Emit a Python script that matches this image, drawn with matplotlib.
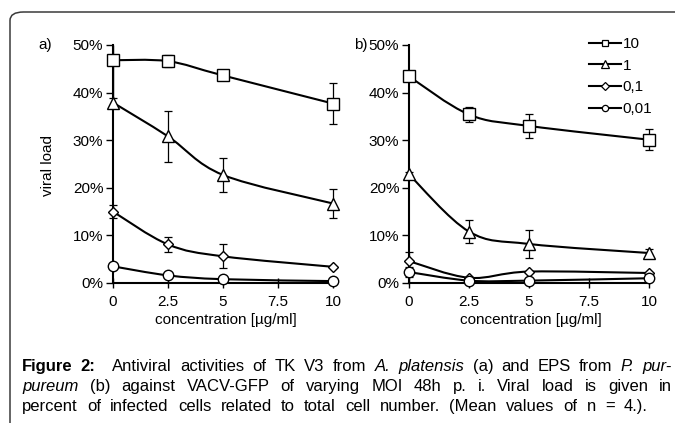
import numpy as np
import matplotlib
matplotlib.use("Agg")
import matplotlib.pyplot as plt
from matplotlib.path import Path
from matplotlib.patches import PathPatch, FancyBboxPatch
from matplotlib.ticker import FuncFormatter

plt.rcParams['font.family'] = ['Liberation Sans', 'DejaVu Sans']

# ---------------- data ----------------
conc = [0, 2.5, 5, 10]
moi_labels = ["10", "1", "0,1", "0,01"]

# panel a) TK V3 from A. platensis
a_10 = [46.8, 46.6, 43.6, 37.7]
a_10_err = [0.9, 1.3, 0.7, 4.4]
a_1 = [37.9, 30.8, 22.7, 16.7]
a_1_err = [0.9, 5.4, 3.5, 3.0]
a_01 = [15.0, 8.1, 5.6, 3.4]
a_01_err = [1.3, 1.5, 2.5, 0.0]
a_001 = [3.5, 1.6, 0.8, 0.4]
a_001_err = [0.0, 0.0, 0.0, 0.0]

# panel b) EPS from P. purpureum
b_10 = [43.4, 35.4, 33.0, 30.1]
b_10_err = [0.0, 1.5, 2.6, 2.2]
b_1 = [22.8, 10.8, 8.2, 6.3]
b_1_err = [0.6, 2.4, 2.9, 0.9]
b_01 = [4.6, 1.1, 2.4, 2.1]
b_01_err = [1.9, 0.0, 0.0, 0.0]
b_001 = [2.3, 0.5, 0.5, 1.0]
b_001_err = [1.0, 0.0, 0.0, 0.0]

xticks = [0, 2.5, 5, 7.5, 10]
xticklabels = ["0", "2.5", "5", "7.5", "10"]
yticks = [0, 10, 20, 30, 40, 50]

markers = ['s', '^', 'D', 'o']
msizes = [8, 8, 5.6, 7.5]
leg_msizes = [5, 6, 4, 4.5]

W, H = 675, 423
fig = plt.figure(figsize=(W / 100, H / 100), dpi=100)


def px_axes(l, r, t, b):
    return [l / W, 1 - b / H, (r - l) / W, (b - t) / H]


def smooth_path(x, y):
    # Catmull-Rom style smoothing (as in spreadsheet "smoothed line")
    P = np.column_stack([x, y]).astype(float)
    n = len(P)
    verts = [P[0]]
    codes = [Path.MOVETO]
    for i in range(n - 1):
        p0 = P[i - 1] if i > 0 else P[i]
        p1 = P[i]
        p2 = P[i + 1]
        p3 = P[i + 2] if i + 2 < n else P[i + 1]
        c1 = p1 + (p2 - p0) / 6.0
        c2 = p2 - (p3 - p1) / 6.0
        verts += [c1, c2, p2]
        codes += [Path.CURVE4] * 3
    return Path(verts, codes)


def draw_panel(ax, series, errs):
    ax.set_xlim(0, 10)
    ax.set_ylim(0, 50)
    for k, (ys, es) in enumerate(zip(series, errs)):
        e = np.array(es)
        mask = e > 0
        if mask.any():
            ax.errorbar(np.array(conc)[mask], np.array(ys)[mask], yerr=e[mask],
                        fmt='none', ecolor='black', elinewidth=0.9,
                        capsize=3, capthick=0.9, zorder=2, clip_on=False)
        ax.add_patch(PathPatch(smooth_path(conc, ys), facecolor='none',
                               edgecolor='black', lw=1.5, zorder=3,
                               clip_on=False))
        ax.plot(conc, ys, linestyle='none', marker=markers[k],
                markersize=msizes[k], markerfacecolor='white',
                markeredgecolor='black', markeredgewidth=1.0, zorder=4,
                clip_on=False)
    for s in ['top', 'right']:
        ax.spines[s].set_visible(False)
    for s in ['left', 'bottom']:
        ax.spines[s].set_linewidth(1.5)
        ax.spines[s].set_zorder(1)
    ax.set_xticks(xticks)
    ax.set_xticklabels(xticklabels)
    ax.set_yticks(yticks)
    ax.yaxis.set_major_formatter(FuncFormatter(lambda v, p: f"{v:.0f}%"))
    ax.tick_params(axis='y', direction='out', length=5, width=1.0,
                   labelsize=11, pad=2)
    ax.tick_params(axis='x', direction='inout', length=7, width=1.0,
                   labelsize=11, pad=5)
    ax.patch.set_visible(False)


axa = fig.add_axes(px_axes(113, 333, 45, 283))
draw_panel(axa, [a_10, a_1, a_01, a_001],
           [a_10_err, a_1_err, a_01_err, a_001_err])
# long lower error on the MOI 10 point at 0 ug/ml (panel a)
axa.errorbar([conc[0]], [a_10[0]], yerr=[[9.0], [3.2]], fmt='none',
             ecolor='black', elinewidth=1.0, capsize=0, zorder=2)

axb = fig.add_axes(px_axes(409, 649, 45, 283))
draw_panel(axb, [b_10, b_1, b_01, b_001],
           [b_10_err, b_1_err, b_01_err, b_001_err])

# legend
handles = []
for k in range(4):
    h, = axb.plot([], [], color='black', lw=1.5, marker=markers[k],
                  markersize=leg_msizes[k], markerfacecolor='white',
                  markeredgecolor='black', markeredgewidth=0.9)
    handles.append(h)
axb.legend(handles, moi_labels, loc='upper left',
           bbox_to_anchor=(589 / W, 1 - 37 / H), bbox_transform=fig.transFigure,
           frameon=False, fontsize=11, handlelength=2.1, handletextpad=0.1,
           labelspacing=0.5, borderpad=0, borderaxespad=0)

# panel labels and axis labels
fig.text(45 / W, 1 - 45 / H, "a)", fontsize=11, ha='center', va='center')
fig.text(361 / W, 1 - 45 / H, "b)", fontsize=11, ha='center', va='center')
fig.text(48 / W, 1 - 165 / H, "viral load", fontsize=11, rotation=90,
         ha='center', va='center')
fig.text(226 / W, 1 - 320 / H, "concentration [\u00b5g/ml]", fontsize=11,
         ha='center', va='center')
fig.text(531 / W, 1 - 320 / H, "concentration [\u00b5g/ml]", fontsize=11,
         ha='center', va='center')

# rounded frame (partially outside the canvas)
frame = FancyBboxPatch((10 / W, -0.1), 1.2, 1 - 12 / H + 0.1,
                       boxstyle="round,pad=0,rounding_size=0.02",
                       transform=fig.transFigure, facecolor='none',
                       edgecolor='#3a3a3a', lw=1.1, zorder=0)
fig.patches.append(frame)

# caption (justified)
cap_lines = [
    [("Figure", 'bold', 'normal'), ("2:", 'bold', 'normal'),
     ("Antiviral", 'normal', 'normal'), ("activities", 'normal', 'normal'),
     ("of", 'normal', 'normal'), ("TK", 'normal', 'normal'),
     ("V3", 'normal', 'normal'), ("from", 'normal', 'normal'),
     ("A.", 'normal', 'italic'), ("platensis", 'normal', 'italic'),
     ("(a)", 'normal', 'normal'), ("and", 'normal', 'normal'),
     ("EPS", 'normal', 'normal'), ("from", 'normal', 'normal'),
     ("P.", 'normal', 'italic'), ("pur-", 'normal', 'italic')],
    [("pureum", 'normal', 'italic')] +
    [(w, 'normal', 'normal') for w in
     "(b) against VACV-GFP of varying MOI 48h p. i. Viral load is given in".split()],
    [(w, 'normal', 'normal') for w in
     "percent of infected cells related to total cell number. (Mean values of n = 4.).".split()],
]
cap_y = [371, 391, 411]
cap_right = [672, 672, 648]
x0 = 22
cap_fs = 12
fig.canvas.draw()
renderer = fig.canvas.get_renderer()
for li, words in enumerate(cap_lines):
    texts = []
    widths = []
    for w, wt, st in words:
        t = fig.text(0, 1 - cap_y[li] / H, w, fontsize=cap_fs, fontweight=wt,
                     fontstyle=st, ha='left', va='baseline')
        texts.append(t)
        widths.append(t.get_window_extent(renderer).width)
    ngaps = len(words) - 1
    extra = [0.0] * len(words)
    if li == 0:
        extra[1] = 1.0  # double space after "Figure 2:"
        ngaps += 1
    gap = (cap_right[li] - x0 - sum(widths)) / ngaps
    x = x0
    for j, (t, wd) in enumerate(zip(texts, widths)):
        t.set_x(x / W)
        x += wd + gap * (1 + extra[j])

fig.savefig("out.png", dpi=100)
